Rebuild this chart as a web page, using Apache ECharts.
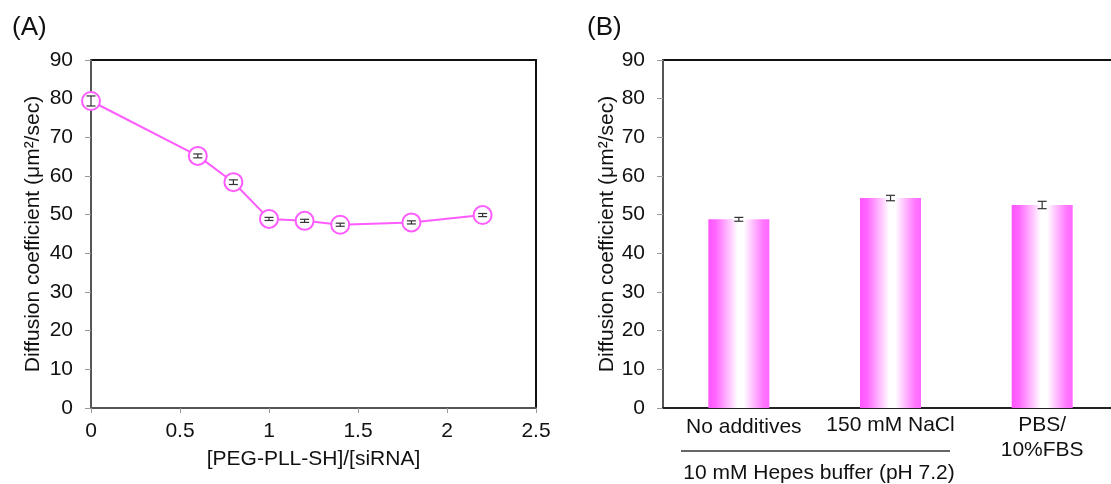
<!DOCTYPE html>
<html>
<head>
<meta charset="utf-8">
<script src="https://cdn.jsdelivr.net/npm/echarts@6/dist/echarts.min.js"></script>
<style>
html,body{margin:0;padding:0;background:#fff;}
#chart{width:1111px;height:484px;}
</style>
</head>
<body>
<div id="chart"></div>
<script>
// ---- data (panel A) ----
const ratioX = [0, 0.6, 0.8, 1.0, 1.2, 1.4, 1.8, 2.2];
const diffA = [79.4, 65.2, 58.4, 48.9, 48.4, 47.4, 48.0, 49.9];
const errA = [1.3, 0.5, 0.6, 0.4, 0.4, 0.4, 0.4, 0.4];
// ---- data (panel B) ----
const conditions = ['No additives', '150 mM NaCl', 'PBS/\n10%FBS'];
const diffB = [48.8, 54.3, 52.5];
const errB = [0.5, 0.7, 0.95];
// ---- axis ranges / labels ----
const yMin = 0, yMax = 90, yStep = 10;
const xMin = 0, xMax = 2.5, xStep = 0.5;
const yName = 'Diffusion coefficient (\u03bcm\u00b2/sec)';
const xNameA = '[PEG-PLL-SH]/[siRNA]';
const groupNote = '10 mM Hepes buffer (pH 7.2)';
const panelLabels = ['(A)', '(B)'];

const FONT = 'Liberation Sans, Arial, sans-serif';
const MAG = '#ff5cff';

const chart = echarts.init(document.getElementById('chart'), null, {renderer: 'canvas'});

function errRender(params, api) {
  const x = api.value(0), v = api.value(1), e = api.value(2);
  const top = api.coord([x, v + e]);
  const bot = api.coord([x, v - e]);
  const hw = 4.5;
  const style = {stroke: '#333', lineWidth: 1.2};
  return {type: 'group', children: [
    {type: 'line', shape: {x1: top[0], y1: top[1], x2: bot[0], y2: bot[1]}, style},
    {type: 'line', shape: {x1: top[0]-hw, y1: top[1], x2: top[0]+hw, y2: top[1]}, style},
    {type: 'line', shape: {x1: bot[0]-hw, y1: bot[1], x2: bot[0]+hw, y2: bot[1]}, style}
  ]};
}

const yAxisCommon = {
  type: 'value', min: yMin, max: yMax, interval: yStep,
  name: yName, nameLocation: 'middle', nameRotate: 90,
  nameTextStyle: {fontFamily: FONT, fontSize: 21, color: '#111'},
  axisLine: {show: true, lineStyle: {color: '#555', width: 2}},
  axisTick: {show: true, length: 6, lineStyle: {color: '#999', width: 1}},
  axisLabel: {fontFamily: FONT, fontSize: 21, color: '#111', margin: 18},
  splitLine: {show: false}
};

const option = {
  animation: false,
  backgroundColor: '#fff',
  grid: [
    {left: 91, top: 60, width: 445, height: 348, show: true, borderColor: '#111', borderWidth: 2, backgroundColor: 'transparent', outerBoundsMode: 'none'},
    {left: 663, top: 60, width: 455, height: 348, show: true, borderColor: '#111', borderWidth: 2, backgroundColor: 'transparent', outerBoundsMode: 'none'}
  ],
  xAxis: [
    {
      gridIndex: 0, type: 'value', min: xMin, max: xMax, interval: xStep,
      name: xNameA, nameLocation: 'middle', nameGap: 41,
      nameTextStyle: {fontFamily: FONT, fontSize: 21, color: '#111'},
      axisLine: {show: true, lineStyle: {color: '#555', width: 2}},
      axisTick: {show: true, length: 5, lineStyle: {color: '#999', width: 1}},
      axisLabel: {fontFamily: FONT, fontSize: 21, color: '#111', margin: 13},
      splitLine: {show: false}
    },
    {
      gridIndex: 1, type: 'category', data: conditions,
      axisLine: {show: true, lineStyle: {color: '#222', width: 2}},
      axisTick: {show: false},
      axisLabel: {
        fontFamily: FONT, fontSize: 21, color: '#111', margin: 5, lineHeight: 25,
        interval: 0,
        formatter: function (v, i) { return i === 0 ? '{a|' + v + '}' : v; },
        rich: {a: {fontFamily: FONT, fontSize: 21, color: '#111', lineHeight: 25, padding: [4, 0, 0, 10]}}
      },
      splitLine: {show: false}
    }
  ],
  yAxis: [
    Object.assign({}, yAxisCommon, {gridIndex: 0, nameGap: 47}),
    Object.assign({}, yAxisCommon, {gridIndex: 1, nameGap: 44})
  ],
  series: [
    {
      type: 'line', xAxisIndex: 0, yAxisIndex: 0,
      data: ratioX.map((x, i) => [x, diffA[i]]),
      symbol: 'emptyCircle', symbolSize: 18,
      lineStyle: {color: MAG, width: 2},
      itemStyle: {color: MAG, borderColor: MAG, borderWidth: 2.5},
      z: 2
    },
    {
      type: 'custom', xAxisIndex: 0, yAxisIndex: 0,
      data: ratioX.map((x, i) => [x, diffA[i], errA[i]]),
      renderItem: errRender, z: 5
    },
    {
      type: 'bar', xAxisIndex: 1, yAxisIndex: 1,
      data: diffB, barWidth: 61,
      itemStyle: {
        color: new echarts.graphic.LinearGradient(0, 0, 1, 0, [
          {offset: 0, color: '#ff55ff'},
          {offset: 0.12, color: '#ff66ff'},
          {offset: 0.48, color: '#ffffff'},
          {offset: 0.58, color: '#ffffff'},
          {offset: 0.9, color: '#ff77ff'},
          {offset: 1, color: '#ff66ff'}
        ])
      },
      z: 2
    },
    {
      type: 'custom', xAxisIndex: 1, yAxisIndex: 1,
      data: conditions.map((c, i) => [i, diffB[i], errB[i]]),
      renderItem: errRender, z: 5
    }
  ],
  graphic: [
    {type: 'text', left: 12, top: 15, style: {text: panelLabels[0], font: '26px ' + FONT, fill: '#111'}},
    {type: 'text', left: 587, top: 15, style: {text: panelLabels[1], font: '26px ' + FONT, fill: '#111'}},
    {type: 'line', shape: {x1: 681, y1: 451, x2: 950, y2: 451}, style: {stroke: '#333', lineWidth: 1.5}},
    {type: 'text', x: 819, y: 473, style: {text: groupNote, font: '21px ' + FONT, fill: '#111', textAlign: 'center', textVerticalAlign: 'middle'}}
  ]
};
chart.setOption(option);
</script>
</body>
</html>
